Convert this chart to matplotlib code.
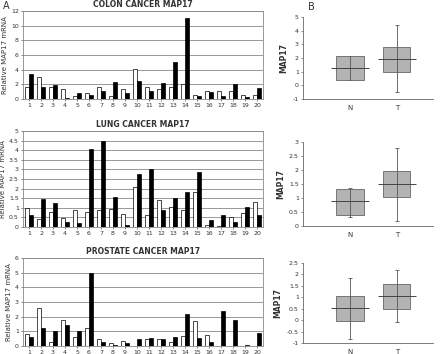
import matplotlib.pyplot as plt

# bar chart data: normal (white) and tumour (black) per sample
muestras = list(range(1, 21))
colon_n = [1.65, 3.0, 1.65, 1.3, 0.45, 0.75, 1.6, 0.45, 1.35, 4.05, 1.6, 1.3, 1.6, 2.1, 0.5, 1.05, 1.05, 1.15, 0.5, 0.6]
colon_t = [3.45, 1.65, 1.95, 0.2, 0.8, 0.6, 1.1, 2.25, 0.85, 2.45, 1.1, 2.15, 5.0, 11.0, 0.4, 0.9, 0.45, 2.0, 0.25, 1.55]
lung_n = [1.0, 0.43, 0.78, 0.45, 0.87, 0.78, 0.89, 0.92, 0.7, 2.1, 0.6, 1.39, 1.04, 0.87, 1.82, 0.1, 0.05, 0.5, 0.73, 1.32]
lung_t = [0.64, 1.44, 1.27, 0.24, 0.19, 4.05, 4.48, 1.58, 0.12, 2.76, 3.04, 0.89, 1.49, 1.8, 2.85, 0.36, 0.6, 0.24, 1.06, 0.64]
prost_n = [0.85, 2.6, 0.3, 1.8, 0.6, 1.2, 0.47, 0.22, 0.36, 0.03, 0.47, 0.5, 0.25, 0.65, 1.7, 0.78, 0.02, 0.02, 0.03, 0.02]
prost_t = [0.6, 1.2, 1.0, 1.42, 1.0, 5.0, 0.3, 0.08, 0.2, 0.5, 0.55, 0.5, 0.62, 2.15, 0.56, 0.26, 2.4, 1.8, 0.08, 0.87]

# box plot data: q1, median, q3, whisker low, whisker high for N and T
grupos = ['N', 'T']
colon_box = {'q1': [0.4, 1.0], 'med': [1.27, 1.93], 'q3': [2.15, 2.8], 'lo': [0.4, -0.5], 'hi': [2.15, 4.4]}
lung_box = {'q1': [0.38, 1.02], 'med': [0.88, 1.49], 'q3': [1.31, 1.95], 'lo': [0.33, 0.19], 'hi': [1.37, 2.8]}
prost_box = {'q1': [-0.04, 0.49], 'med': [0.52, 1.06], 'q3': [1.06, 1.57], 'lo': [-0.84, -0.1], 'hi': [1.86, 2.18]}

W, H = 440, 354
fig = plt.figure(figsize=(4.4, 3.54), dpi=100)


def rect(left, top, right, bottom):
    return [left / W, 1 - bottom / H, (right - left) / W, (bottom - top) / H]


def barras(r, normal, tumor, titulo, ymax, paso):
    ax = fig.add_axes(r)
    xs = muestras
    ax.bar([x - 0.17 for x in xs], normal, width=0.32, color='white', edgecolor='black', linewidth=0.5, zorder=3)
    ax.bar([x + 0.17 for x in xs], tumor, width=0.32, color='black', edgecolor='black', linewidth=0.5, zorder=3)
    ax.set_xlim(0.5, 20.5)
    ax.set_ylim(0, ymax)
    ticks = []
    v = 0
    while v <= ymax + 1e-9:
        ticks.append(v)
        v += paso
    ax.set_yticks(ticks)
    ax.set_yticklabels([('%g' % t) for t in ticks])
    ax.set_xticks(xs)
    ax.yaxis.grid(True, color='#888888', linewidth=0.6, zorder=0)
    for s in ax.spines.values():
        s.set_color('#888888')
        s.set_linewidth(0.6)
    ax.tick_params(labelsize=4.5, length=1.5, width=0.5, pad=1.5, colors='#555555', labelcolor='#333333')
    ax.set_ylabel('Relative MAP17 mRNA', fontsize=5, color='#333333', labelpad=2)
    ax.set_title(titulo, fontsize=5.5, fontweight='bold', color='#333333', pad=3)
    return ax


def cajas(r, d, ymin, ymax, paso):
    ax = fig.add_axes(r)
    pos = [1, 2]
    alto = [d['q3'][i] - d['q1'][i] for i in range(2)]
    ax.vlines(pos, d['lo'], d['hi'], color='#555555', linewidth=0.6, zorder=2)
    ax.hlines(d['lo'], [p - 0.05 for p in pos], [p + 0.05 for p in pos], color='#555555', linewidth=0.6)
    ax.hlines(d['hi'], [p - 0.05 for p in pos], [p + 0.05 for p in pos], color='#555555', linewidth=0.6)
    ax.bar(pos, alto, bottom=d['q1'], width=0.58, color='#b3b3b3', edgecolor='#666666', linewidth=0.6, zorder=3)
    ax.vlines(pos, d['q1'], d['q3'], color='#555555', linewidth=0.6, zorder=4)
    ax.hlines(d['med'], [p - 0.41 for p in pos], [p + 0.41 for p in pos], color='#444444', linewidth=0.7, zorder=4)
    ax.set_xlim(0, 2.77)
    ax.set_ylim(ymin, ymax)
    ticks = []
    v = ymin
    while v <= ymax + 1e-9:
        ticks.append(v)
        v += paso
    ax.set_yticks(ticks)
    ax.set_yticklabels([('%g' % t) for t in ticks])
    ax.set_xticks(pos)
    ax.set_xticklabels(grupos)
    ax.spines['top'].set_visible(False)
    ax.spines['right'].set_visible(False)
    for s in ['left', 'bottom']:
        ax.spines[s].set_color('#666666')
        ax.spines[s].set_linewidth(0.6)
    ax.tick_params(axis='y', labelsize=4.5, length=1.5, width=0.5, pad=1.5, colors='#666666', labelcolor='#333333')
    ax.tick_params(axis='x', labelsize=5, length=0, pad=4, labelcolor='#333333')
    ax.set_ylabel('MAP17', fontsize=5.5, fontweight='bold', color='#333333', labelpad=3)
    return ax


barras(rect(23, 11, 263, 99), colon_n, colon_t, 'COLON CANCER MAP17', 12, 2)
barras(rect(23, 131, 263, 227), lung_n, lung_t, 'LUNG CANCER MAP17', 5, 0.5)
barras(rect(23, 258, 263, 346), prost_n, prost_t, 'PROSTATE CANCER MAP17', 6, 1)

cajas(rect(303, 17, 433, 99), colon_box, -1, 5, 1)
cajas(rect(303, 142, 433, 226), lung_box, 0, 3, 0.5)
cajas(rect(303, 263, 433, 343), prost_box, -1, 2.5, 0.5)

fig.text(3 / W, 1 - 6 / H, 'A', fontsize=7, color='#333333', va='center')
fig.text(308 / W, 1 - 7 / H, 'B', fontsize=7, color='#333333', va='center')

fig.savefig('out.png', dpi=100)
